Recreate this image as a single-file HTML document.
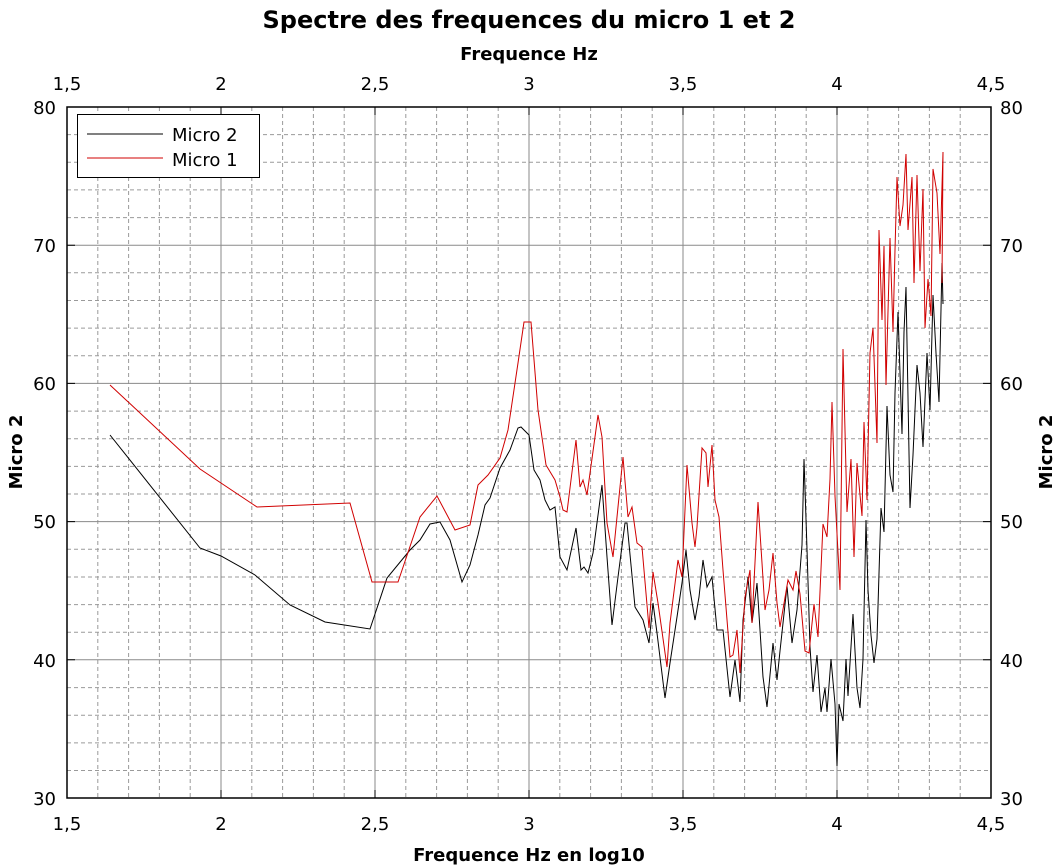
<!DOCTYPE html>
<html><head><meta charset="utf-8"><style>
html,body{margin:0;padding:0;background:#fff;}
svg{display:block;font-family:"DejaVu Sans","Liberation Sans",sans-serif;}
</style></head><body>
<svg width="1059" height="865" viewBox="0 0 1059 865" xmlns="http://www.w3.org/2000/svg">
<rect width="1059" height="865" fill="#fff"/>
<text x="529" y="28" text-anchor="middle" font-size="24" font-weight="bold">Spectre des frequences du micro 1 et 2</text>
<text x="529" y="60" text-anchor="middle" font-size="18" font-weight="bold">Frequence Hz</text>
<text x="529" y="861" text-anchor="middle" font-size="18" font-weight="bold">Frequence Hz en log10</text>
<text transform="translate(22,452) rotate(-90)" text-anchor="middle" font-size="18" font-weight="bold">Micro 2</text>
<text transform="translate(1052,452) rotate(-90)" text-anchor="middle" font-size="18" font-weight="bold">Micro 2</text>
<g stroke="#9a9a9a" stroke-width="1" stroke-dasharray="4,3">
<path d="M97.8,107V798M128.6,107V798M159.4,107V798M190.2,107V798M251.8,107V798M282.6,107V798M313.4,107V798M344.2,107V798M405.8,107V798M436.6,107V798M467.4,107V798M498.2,107V798M559.8,107V798M590.6,107V798M621.4,107V798M652.2,107V798M713.8,107V798M744.6,107V798M775.4,107V798M806.2,107V798M867.8,107V798M898.6,107V798M929.4,107V798M960.2,107V798"/>
<path d="M67,134.6H991M67,162.3H991M67,189.9H991M67,217.6H991M67,272.8H991M67,300.5H991M67,328.1H991M67,355.8H991M67,411.1H991M67,438.7H991M67,466.4H991M67,494H991M67,549.3H991M67,577H991M67,604.6H991M67,632.3H991M67,687.6H991M67,715.2H991M67,742.9H991M67,770.5H991"/>
</g>
<g stroke="#8a8a8a" stroke-width="1">
<path d="M221,107V798M375,107V798M529,107V798M683,107V798M837,107V798"/>
<path d="M67,245.2H991M67,383.4H991M67,521.6H991M67,659.8H991"/>
</g>
<rect x="67" y="107" width="924" height="691" fill="none" stroke="#000" stroke-width="1.5"/>
<g stroke="#000" stroke-width="1">
<path d="M67,798v-8M221,798v-8M375,798v-8M529,798v-8M683,798v-8M837,798v-8M991,798v-8M67,107v8M221,107v8M375,107v8M529,107v8M683,107v8M837,107v8M991,107v8"/>
<path d="M67,107h8M67,245.2h8M67,383.4h8M67,521.6h8M67,659.8h8M67,798h8M991,107h-8M991,245.2h-8M991,383.4h-8M991,521.6h-8M991,659.8h-8M991,798h-8"/>
</g>
<g font-size="18" text-anchor="middle">
<text x="67" y="830">1,5</text><text x="221" y="830">2</text><text x="375" y="830">2,5</text><text x="529" y="830">3</text><text x="683" y="830">3,5</text><text x="837" y="830">4</text><text x="991" y="830">4,5</text>
<text x="67" y="90">1,5</text><text x="221" y="90">2</text><text x="375" y="90">2,5</text><text x="529" y="90">3</text><text x="683" y="90">3,5</text><text x="837" y="90">4</text><text x="991" y="90">4,5</text>
</g>
<g font-size="18" text-anchor="end">
<text x="56" y="114">80</text><text x="56" y="252">70</text><text x="56" y="390">60</text><text x="56" y="528">50</text><text x="56" y="667">40</text><text x="56" y="805">30</text>
</g>
<g font-size="18" text-anchor="start">
<text x="1000" y="114">80</text><text x="1000" y="252">70</text><text x="1000" y="390">60</text><text x="1000" y="528">50</text><text x="1000" y="667">40</text><text x="1000" y="805">30</text>
</g>
<polyline fill="none" stroke="#000" stroke-width="1" points="110,435 200,548 221,556 255,575 290,605 325,622 370,629 387,578 410,550 420,540 430,524 440,522 450,540 462,582 470,565 478,535 485,505 490,498 500,468 510,450 518,428 521,427 529,435 534,470 540,480 545,500 550,510 555,507 560,557 567,570 576,528 581,570 584,567 588,573 593,553 602,485 607,557 612,625 618,577 625,523 627,523 635,607 643,620 649,643 653,603 657,633 665,698 670,663 677,617 682,583 686,550 690,590 695,620 699,597 703,560 707,587 712,577 717,630 723,630 730,697 735,660 740,702 743,620 748,577 752,623 757,583 763,677 767,707 773,643 777,680 780,651 787,586 792,643 797,610 802,545 804,459 807,549 810,647 813,692 817,655 821,712 825,688 827,712 831,659 835,704 837,766 839,704 843,721 846,659 848,696 853,614 857,688 860,708 863,659 866,520 868,590 871,635 874,663 877,639 881,508 884,532 887,406 890,475 893,492 895,393 898,312 902,434 904,332 906,287 910,508 913,455 917,365 920,393 923,447 927,353 930,410 933,295 936,353 939,402 942,263 943,304"/>
<polyline fill="none" stroke="#d00000" stroke-width="1" points="110,385 200,469 257,507 350,503 372,582 398,582 420,517 437,496 455,530 470,525 478,485 488,475 500,458 508,430 518,363 524,322 531,322 538,410 546,465 555,480 560,497 563,510 567,512 576,440 580,487 583,480 587,495 598,415 602,437 607,523 613,557 623,457 628,517 632,507 637,543 642,547 649,628 653,572 658,603 667,667 670,623 678,560 682,577 687,465 692,523 695,547 697,527 702,448 706,453 708,487 712,445 715,500 719,517 723,570 730,657 733,655 737,630 740,673 745,597 750,570 752,623 758,502 762,563 765,610 769,590 773,553 777,603 780,627 788,580 793,590 796,571 800,594 805,651 809,653 814,604 818,637 823,524 827,537 830,479 832,402 835,496 840,590 843,349 847,512 851,459 854,557 857,463 862,516 864,422 867,500 870,353 873,328 877,443 879,230 882,320 884,246 886,385 890,238 893,332 895,250 897,177 900,226 903,205 906,154 908,230 912,177 914,283 917,175 920,271 923,189 925,328 928,279 931,316 933,169 937,193 940,254 943,152 942,283"/>
<rect x="77.5" y="114.5" width="182" height="63" fill="#fff" stroke="#000" stroke-width="1"/>
<line x1="87" y1="134" x2="163" y2="134" stroke="#000"/>
<line x1="87" y1="158" x2="163" y2="158" stroke="#d00000"/>
<text x="172" y="141" font-size="18">Micro 2</text>
<text x="172" y="166" font-size="18">Micro 1</text>
</svg>
</body></html>
